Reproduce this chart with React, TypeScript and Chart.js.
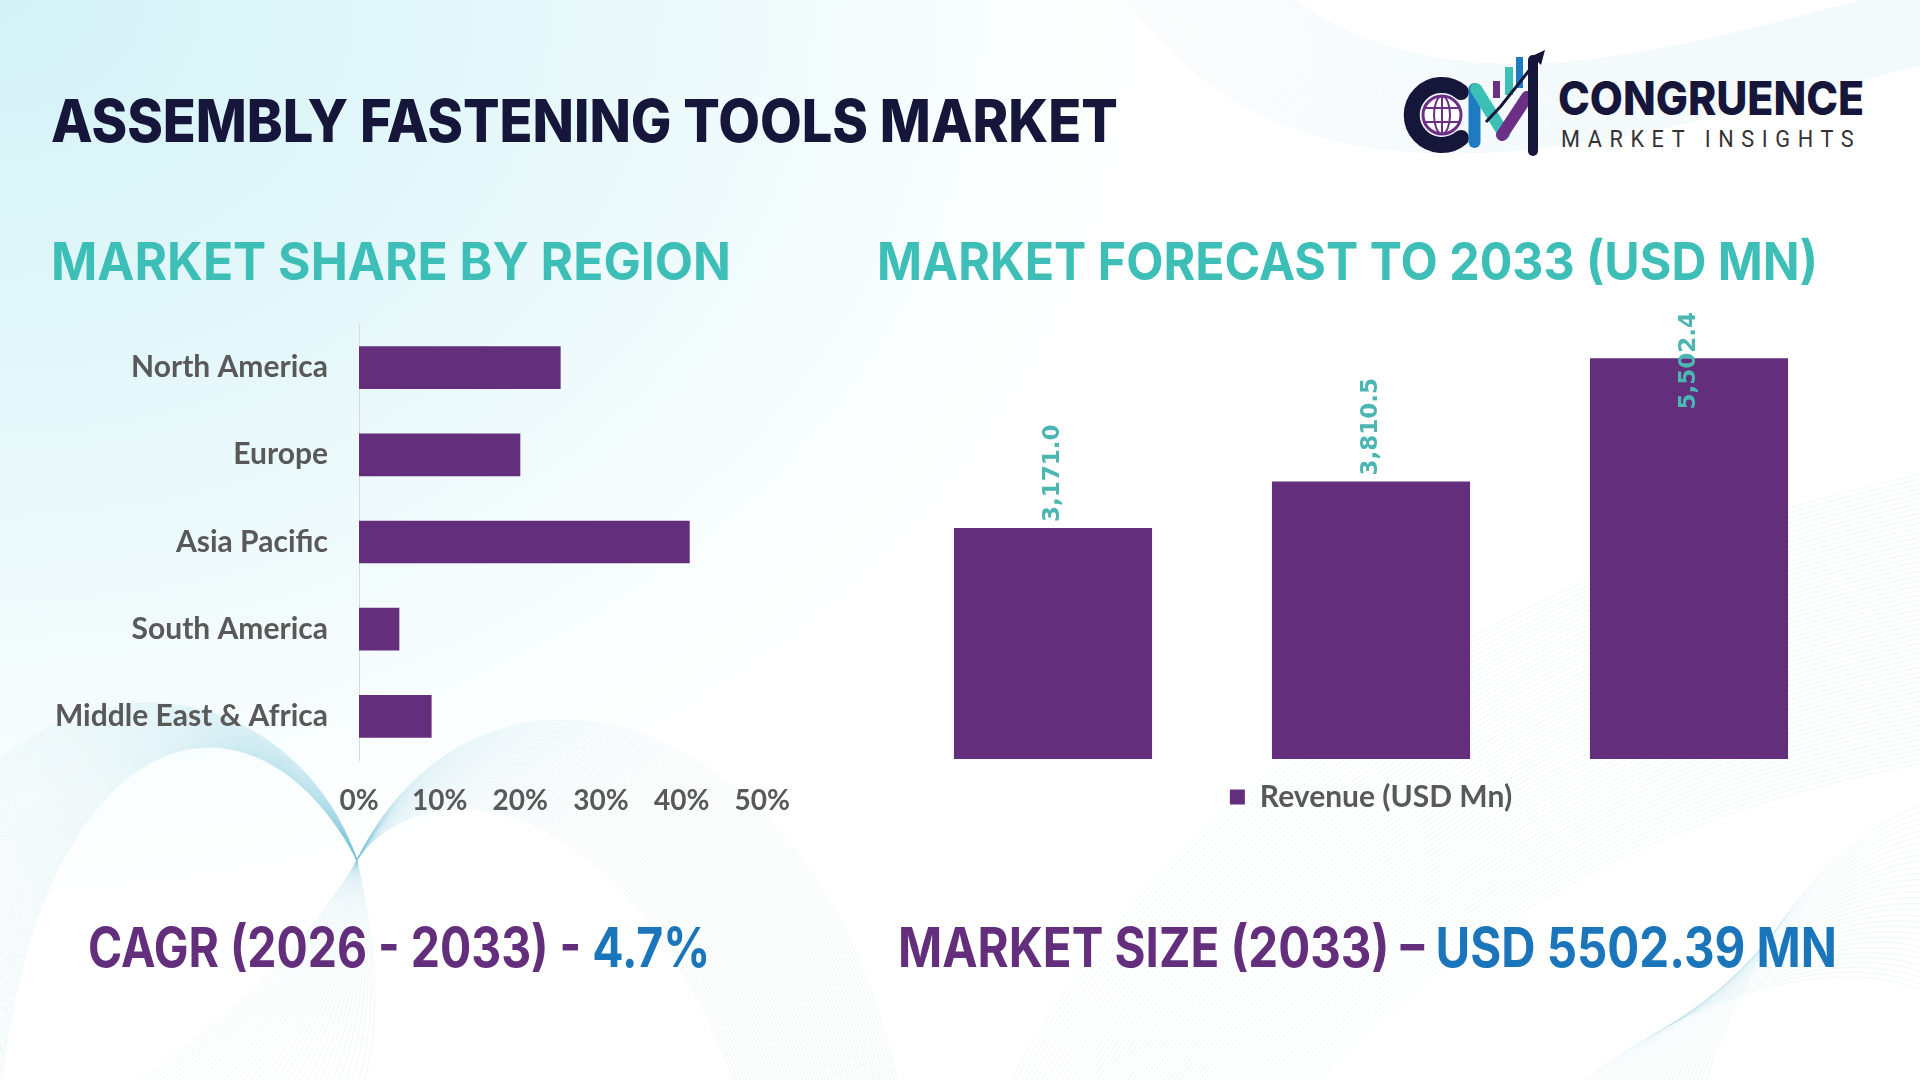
import React, { useEffect, useLayoutEffect, useRef, useState } from "react";
import { Chart, registerables } from "chart.js";

Chart.register(...registerables);

// ---- data ----
const regionLabels = ["North America", "Europe", "Asia Pacific", "South America", "Middle East & Africa"];
const regionShare = [25, 20, 41, 5, 9];
const shareTicks = [0, 10, 20, 30, 40, 50];

const forecastPeriods = ["2025", "2029", "2033"];
const forecastRevenue = [3171.0, 3810.5, 5502.4];
const revenueSeriesName = "Revenue (USD Mn)";
const revenueAxisMax = 6000;

// ---- palette ----
const PURPLE = "#632E7B";
const TEAL = "#3DBFB7";
const LABEL_TEAL = "#4BB6B2";
const GREY = "#595959";
const NAVY = "#15163A";
const BLUE = "#1B75BB";

const tickFont = { family: "Lato", size: 28, weight: "bold" as const };
const categoryFont = { family: "Lato", size: 30, weight: "bold" as const };

function formatRevenue(v: number) {
  return v.toLocaleString("en-US", { minimumFractionDigits: 1, maximumFractionDigits: 1 });
}

// Rotated value labels above each revenue bar, kept inside the top of the canvas.
const revenueLabelPlugin = {
  id: "revenueLabels",
  afterDatasetsDraw(chart: any) {
    const { ctx, chartArea } = chart;
    const meta = chart.getDatasetMeta(0);
    ctx.save();
    ctx.font = "bold 23px 'DejaVu Sans'";
    ctx.fillStyle = LABEL_TEAL;
    ctx.textAlign = "left";
    ctx.textBaseline = "middle";
    meta.data.forEach((bar: any, i: number) => {
      const text = formatRevenue(forecastRevenue[i]);
      const w = ctx.measureText(text).width;
      let start = bar.y - 6;
      const minTop = chartArea.top - 10;
      if (start - w < minTop) start = minTop + w;
      ctx.save();
      ctx.translate(bar.x, start);
      ctx.rotate(-Math.PI / 2);
      ctx.fillText(text, 0, 0);
      ctx.restore();
    });
    ctx.restore();
  },
};

function RegionShareChart() {
  const ref = useRef<HTMLCanvasElement>(null);
  useEffect(() => {
    if (!ref.current) return;
    const chart = new Chart(ref.current, {
      type: "bar",
      data: {
        labels: regionLabels,
        datasets: [
          {
            data: regionShare,
            backgroundColor: PURPLE,
            borderWidth: 0,
            barPercentage: 0.49,
            categoryPercentage: 1,
          },
        ],
      },
      options: {
        animation: false,
        responsive: false,
        indexAxis: "y",
        layout: { padding: { top: 22, right: 38, left: 0, bottom: 0 } },
        plugins: { legend: { display: false }, tooltip: { enabled: false } },
        scales: {
          y: {
            grid: { display: false, drawTicks: false },
            border: { display: true, color: "#D9D9D9", width: 1 },
            ticks: { color: GREY, font: categoryFont, padding: 31 },
            afterFit: (s: any) => {
              s.width = 359;
            },
          },
          x: {
            min: shareTicks[0],
            max: shareTicks[shareTicks.length - 1],
            grid: { display: false, drawTicks: false },
            border: { display: false },
            afterBuildTicks: (axis: any) => {
              axis.ticks = shareTicks.map((v) => ({ value: v }));
            },
            ticks: {
              color: GREY,
              font: tickFont,
              padding: 24,
              callback: (v: any) => `${v}%`,
            },
            afterFit: (s: any) => {
              s.height = 80;
            },
          },
        },
      },
    });
    document.fonts?.ready.then(() => chart.update());
    return () => chart.destroy();
  }, []);
  return (
    <canvas
      ref={ref}
      width={814}
      height={565}
      style={{ position: "absolute", left: 0, top: 275, width: 814, height: 565 }}
    />
  );
}

function RevenueForecastChart() {
  const ref = useRef<HTMLCanvasElement>(null);
  useEffect(() => {
    if (!ref.current) return;
    const chart = new Chart(ref.current, {
      type: "bar",
      data: {
        labels: forecastPeriods,
        datasets: [
          {
            label: revenueSeriesName,
            data: forecastRevenue,
            backgroundColor: PURPLE,
            borderColor: PURPLE,
            borderWidth: 0,
            barPercentage: 0.623,
            categoryPercentage: 1,
          },
        ],
      },
      options: {
        animation: false,
        responsive: false,
        layout: { padding: { top: 60, left: 0, right: 0, bottom: 0 } },
        plugins: {
          legend: {
            display: true,
            position: "bottom",
            labels: { boxWidth: 15, boxHeight: 15, padding: 23, color: GREY, font: categoryFont },
          },
          tooltip: { enabled: false },
        },
        scales: {
          x: { display: false },
          y: { display: false, min: 0, max: revenueAxisMax },
        },
      },
      plugins: [revenueLabelPlugin],
    });
    document.fonts?.ready.then(() => chart.update());
    return () => chart.destroy();
  }, []);
  return (
    <canvas
      ref={ref}
      width={954}
      height={560}
      style={{ position: "absolute", left: 894, top: 262, width: 954, height: 560 }}
    />
  );
}

// Text placed by its baseline and stretched/condensed to an exact width.
function FitText(props: {
  left: number;
  baseline: number;
  width: number;
  size: number;
  weight?: number;
  family?: string;
  color?: string;
  letterSpacing?: string;
  children: React.ReactNode;
}) {
  const { left, baseline, width, size, weight = 700, family = "Inter", color = NAVY, letterSpacing } = props;
  const textRef = useRef<HTMLSpanElement>(null);
  const probeRef = useRef<HTMLSpanElement>(null);
  const [fit, setFit] = useState({ sx: 1, top: baseline - size * 0.8 });
  useLayoutEffect(() => {
    const measure = () => {
      const t = textRef.current;
      const p = probeRef.current;
      if (!t || !p) return;
      const natural = t.offsetWidth;
      setFit({ sx: natural ? width / natural : 1, top: baseline - p.offsetTop });
    };
    measure();
    document.fonts?.ready.then(measure);
  }, [left, baseline, width, size]);
  return (
    <div
      style={{
        position: "absolute",
        left,
        top: fit.top,
        whiteSpace: "nowrap",
        fontFamily: family,
        fontWeight: weight,
        fontSize: size,
        lineHeight: 1,
        color,
        letterSpacing,
        transformOrigin: "0 0",
        transform: `scaleX(${fit.sx})`,
      }}
    >
      <span ref={textRef}>{props.children}</span>
      <span ref={probeRef} style={{ display: "inline-block", width: 0, height: 0 }} />
    </div>
  );
}

// Decorative line meshes: each family blends between two cubic curves.
function meshPaths(a: number[], b: number[], n: number) {
  const out: string[] = [];
  for (let k = 0; k <= n; k++) {
    const t = k / n;
    const p = a.map((v, i) => (v * (1 - t) + b[i] * t).toFixed(1));
    out.push(`M${p[0]},${p[1]} C${p[2]},${p[3]} ${p[4]},${p[5]} ${p[6]},${p[7]}`);
  }
  return out;
}

const meshFamilies: { a: number[]; b: number[]; n: number; op: number }[] = [
  // bottom-left lobe rising to a crest and pinching in
  { a: [0, 1090, 40, 720, 250, 660, 357, 860], b: [-120, 900, 60, 600, 300, 690, 357, 860], n: 55, op: 0.2 },
  { a: [357, 860, 300, 960, 200, 1040, 120, 1095], b: [357, 860, 380, 960, 380, 1040, 360, 1095], n: 35, op: 0.16 },
  // dome opening to the right of the pinch
  { a: [357, 860, 420, 770, 620, 770, 740, 1095], b: [357, 860, 480, 610, 820, 700, 900, 1095], n: 50, op: 0.18 },
  // bottom-right sweep
  { a: [1000, 1100, 1180, 760, 1520, 560, 1940, 470], b: [1300, 1100, 1500, 880, 1720, 800, 1940, 760], n: 60, op: 0.16 },
  { a: [1700, 1100, 1760, 900, 1860, 820, 1940, 800], b: [1560, 1100, 1700, 980, 1860, 950, 1940, 1000], n: 30, op: 0.16 },
  // top-right band
  { a: [1120, -10, 1300, 250, 1620, 140, 1940, 60], b: [1280, -10, 1460, 130, 1700, 40, 1940, -20], n: 60, op: 0.15 },
];

function Backdrop() {
  return (
    <svg width={1920} height={1080} style={{ position: "absolute", left: 0, top: 0 }} viewBox="0 0 1920 1080">
      {meshFamilies.map((f, fi) =>
        meshPaths(f.a, f.b, f.n).map((d, i) => (
          <path key={`${fi}-${i}`} d={d} fill="none" stroke="#7CC6DA" strokeWidth={0.8} strokeOpacity={f.op} />
        ))
      )}
    </svg>
  );
}

function LogoMark() {
  const violet = "#6B2F86";
  return (
    <svg width={160} height={115} viewBox="0 0 160 115" style={{ position: "absolute", left: 1400, top: 48 }}>
      {/* C */}
      <path d="M 61 44 A 30 30 0 1 0 61 90" fill="none" stroke={NAVY} strokeWidth={16} strokeLinecap="round" />
      {/* globe */}
      <circle cx={42} cy={67} r={19} fill="#fff" stroke={violet} strokeWidth={3} />
      <ellipse cx={42} cy={67} rx={8} ry={19} fill="none" stroke={violet} strokeWidth={2} />
      <line x1={42} y1={48} x2={42} y2={86} stroke={violet} strokeWidth={2} />
      <line x1={24} y1={60} x2={60} y2={60} stroke={violet} strokeWidth={2} />
      <line x1={24} y1={74} x2={60} y2={74} stroke={violet} strokeWidth={2} />
      {/* bars */}
      <rect x={93} y={33} width={7} height={17} fill={violet} />
      <rect x={105} y={19} width={8} height={28} fill="#3CC0B6" />
      <rect x={116} y={9} width={7} height={31} fill="#1F7BC1" />
      {/* M strokes */}
      <line x1={74.5} y1={41} x2={74.5} y2={94} stroke="#1F7BC1" strokeWidth={12} strokeLinecap="round" />
      <line x1={76} y1={41} x2={104} y2={86} stroke="#3CC0B6" strokeWidth={12} strokeLinecap="round" />
      <line x1={102} y1={87} x2={127} y2={49} stroke={violet} strokeWidth={12} strokeLinecap="round" />
      <line x1={133} y1={12} x2={133} y2={103} stroke={NAVY} strokeWidth={10} strokeLinecap="round" />
      {/* arrow */}
      <polyline points="86,74 101,58 139,10" fill="none" stroke={NAVY} strokeWidth={3} />
      <polygon points="145,2 132,8 141,17" fill={NAVY} />
    </svg>
  );
}

export default function App() {
  return (
    <div
      style={{
        position: "fixed",
        left: 0,
        top: 0,
        width: 1920,
        height: 1080,
        overflow: "hidden",
        background:
          "radial-gradient(ellipse 1150px 900px at 0% 0%, #d3f2f6 0%, #e3f7fa 40%, rgba(255,255,255,0) 100%), #ffffff",
      }}
    >
      <Backdrop />

      <FitText left={51} baseline={142} width={1067} size={59} weight={800} color={NAVY}>
        ASSEMBLY FASTENING TOOLS MARKET
      </FitText>

      <LogoMark />
      <FitText left={1558} baseline={115} width={306} size={47} weight={800} color={NAVY}>
        CONGRUENCE
      </FitText>
      <FitText left={1561} baseline={147} width={300} size={24} weight={400} family="Roboto" color="#333333" letterSpacing="0.35em">
        MARKET INSIGHTS
      </FitText>

      <FitText left={51} baseline={280} width={680} size={52} weight={700} color={TEAL}>
        MARKET SHARE BY REGION
      </FitText>
      <FitText left={877} baseline={280} width={941} size={52} weight={700} color={TEAL}>
        MARKET FORECAST TO 2033 (USD MN)
      </FitText>

      <RegionShareChart />
      <RevenueForecastChart />

      <FitText left={88} baseline={967} width={622} size={55} weight={700} color={PURPLE}>
        CAGR (2026 - 2033) - <span style={{ color: BLUE }}>4.7%</span>
      </FitText>
      <FitText left={898} baseline={967} width={939} size={55} weight={700} color={PURPLE}>
        MARKET SIZE (2033) – <span style={{ color: BLUE }}>USD 5502.39 MN</span>
      </FitText>
    </div>
  );
}
